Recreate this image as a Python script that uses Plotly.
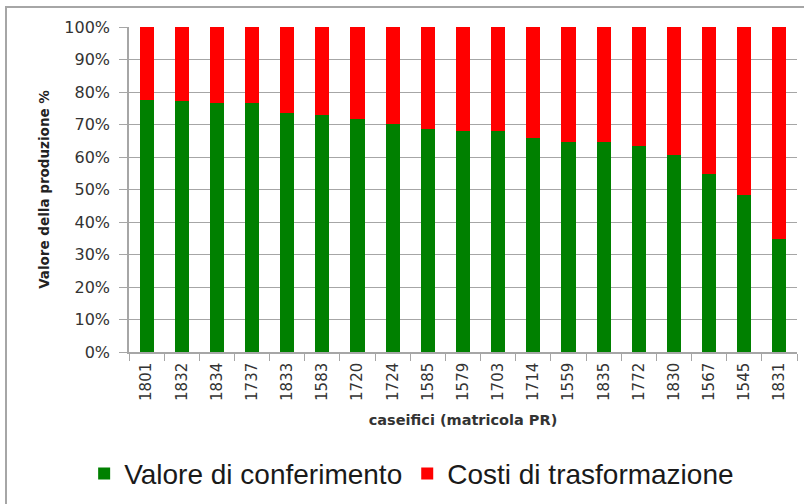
import plotly.graph_objects as go

caseifici = ["1801", "1832", "1834", "1737", "1833", "1583", "1720", "1724", "1585", "1579",
             "1703", "1714", "1559", "1835", "1772", "1830", "1567", "1545", "1831"]
valore_conferimento = [77.6, 77.1, 76.6, 76.6, 73.5, 72.8, 71.7, 70.2, 68.6, 67.9,
                       67.9, 66.0, 64.7, 64.7, 63.3, 60.7, 54.8, 48.4, 34.8]
costi_trasformazione = [22.4, 22.9, 23.4, 23.4, 26.5, 27.2, 28.3, 29.8, 31.4, 32.1,
                        32.1, 34.0, 35.3, 35.3, 36.7, 39.3, 45.2, 51.6, 65.2]
y_ticks = [0, 10, 20, 30, 40, 50, 60, 70, 80, 90, 100]

fig = go.Figure()
fig.add_trace(go.Bar(x=caseifici, y=valore_conferimento, name="Valore di conferimento",
                     marker=dict(color="#008000", line=dict(width=0))))
fig.add_trace(go.Bar(x=caseifici, y=costi_trasformazione, name="Costi di trasformazione",
                     marker=dict(color="#FF0000", line=dict(width=0))))

grid = "#a6a6a6"
fig.update_layout(
    barmode="stack",
    bargap=0.6,
    width=804, height=504,
    margin=dict(l=129, r=7, t=27, b=152),
    plot_bgcolor="white", paper_bgcolor="white",
    font=dict(family="DejaVu Sans", color="#333333"),
    legend=dict(orientation="h", xref="container", yref="container",
                x=0.512, xanchor="center", y=0.06, yanchor="middle",
                font=dict(family="Liberation Sans", size=28, color="#1a1a1a"),
                itemwidth=30, traceorder="normal"),
    xaxis=dict(
        type="category",
        tickangle=-90,
        tickfont=dict(size=15, color="#333333"),
        showline=True, linecolor=grid, linewidth=1.5,
        ticks="outside", ticklen=7, tickcolor=grid, tickson="boundaries",
        ticklabelstandoff=3,
        showgrid=False,
        title=dict(text="<b>caseifici (matricola PR)</b>", font=dict(size=14.5, color="#333333"),
                   standoff=15),
    ),
    yaxis=dict(
        range=[0, 100],
        tickvals=y_ticks,
        ticktext=[f"{v}%" for v in y_ticks],
        tickfont=dict(size=16, color="#333333"),
        showline=True, linecolor=grid, linewidth=1.5,
        ticks="outside", ticklen=8, tickcolor=grid,
        ticklabelstandoff=6,
        showgrid=True, gridcolor=grid, gridwidth=1,
        zeroline=False,
        title=dict(text="<b>Valore della produzione %</b>", font=dict(size=13.5, color="#222222"),
                   standoff=12),
    ),
    shapes=[dict(type="rect", xref="paper", yref="paper",
                 x0=(6 - 129) / 668, x1=1.1, y0=-0.6, y1=(352 - 7) / 325,
                 line=dict(color="#a6a6a6", width=2), fillcolor="rgba(0,0,0,0)", layer="below")],
)

fig.write_html("out.html", config={"displayModeBar": False},
               post_script="document.body.style.margin='0';")
